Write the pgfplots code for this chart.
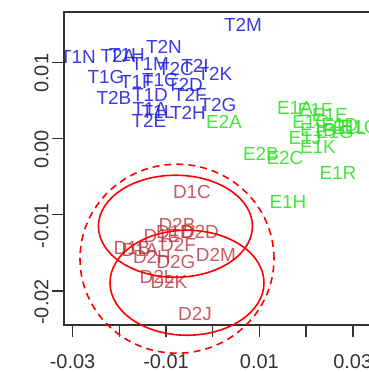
\documentclass[border=0pt]{standalone}
\usepackage{pgfplots}
\usepackage{pgfplotstable}
\pgfplotsset{compat=1.18}
\usepackage{fontspec}
\setmainfont{Liberation Sans}
\definecolor{tblue}{RGB}{25,25,225}
\definecolor{egreen}{RGB}{40,225,30}
\definecolor{dred}{RGB}{185,50,60}
\definecolor{axisgray}{RGB}{50,50,50}

\pgfplotstableread{
x y label
0.00649 0.01487 T2M
-0.02884 0.01067 T1N
-0.02028 0.01080 T2A
-0.01835 0.01093 T1H
-0.01043 0.01198 T2N
-0.01343 0.00975 T1M
-0.00786 0.00910 T2C
-0.00379 0.00949 T2I
0.00049 0.00844 T2K
-0.02285 0.00804 T1G
-0.01621 0.00739 T1F
-0.01128 0.00765 T1C
-0.00593 0.00699 T2D
-0.02113 0.00529 T2B
-0.01343 0.00568 T1D
-0.00486 0.00568 T2F
-0.01343 0.00385 T1A
-0.00529 0.00332 T2H
0.00113 0.00437 T2G
-0.01171 0.00345 T1L
-0.01364 0.00227 T2E
}\Tdata

\pgfplotstableread{
x y label
0.00242 0.00214 E2A
0.01612 -0.00836 E1H
0.02683 -0.00455 E1R
0.01034 -0.00206 E2B
0.01548 -0.00259 E2C
0.02255 -0.00114 E1K
0.01762 0.00398 E1A
0.02191 0.00371 E1F
0.02512 0.00306 E1E
0.02726 0.00175 E1D
0.02255 0.00109 E1B
0.02612 0.00083 E1G
0.02934 0.00135 E1L
0.03148 0.00148 E1O
0.01976 0.00004 E1J
0.02100 0.00220 E1C
}\Edata

\pgfplotstableread{
x y label
-0.00443 -0.00705 D1C
-0.00379 -0.02306 D2J
0.00071 -0.01531 D2M
-0.00786 -0.01623 D2G
-0.00936 -0.01885 D2K
-0.01193 -0.01820 D2L
-0.01728 -0.01440 D1B
-0.01557 -0.01466 D1A
-0.01300 -0.01558 D2H
-0.00764 -0.01138 D2B
-0.00272 -0.01230 D2D
-0.01086 -0.01282 D1E
-0.00743 -0.01400 D2F
-0.00807 -0.01230 D1D
}\Ddata

\begin{document}
\begin{tikzpicture}
\begin{axis}[
  scale only axis,
  width=316.8bp, height=313bp,
  xmin=-0.03184, xmax=0.036,
  ymin=-0.02446, ymax=0.0166,
  xtick={-0.03,-0.02,-0.01,0,0.01,0.02,0.03},
  xticklabels={-0.03,,-0.01,,0.01,,0.03},
  ytick={-0.02,-0.01,0,0.01},
  yticklabels={-0.02,-0.01,0.00,0.01},
  xtick pos=bottom, ytick pos=left,
  tick align=outside,
  major tick length=12bp,
  axis line style={line width=1.5bp, axisgray},
  every tick/.style={line width=1.5bp, axisgray},
  ticklabel style={font=\fontsize{20}{24}\selectfont, text=axisgray},
  yticklabel style={rotate=90, anchor=south, xshift=-11bp},
  xticklabel style={anchor=north, yshift=-14bp},
  clip marker paths=true,
  scaled ticks=false,
]
\addplot[only marks, mark=*, mark size=0pt, mark options={draw=none,fill=none},
  nodes near coords, point meta=explicit symbolic,
  nodes near coords style={anchor=center, text=tblue, text opacity=0.85, inner sep=0pt,
    font=\fontsize{19}{22}\selectfont}]
  table[meta=label] {\Tdata};
\addplot[only marks, mark=*, mark size=0pt, mark options={draw=none,fill=none},
  nodes near coords, point meta=explicit symbolic,
  nodes near coords style={anchor=center, text=egreen, text opacity=0.85, inner sep=0pt,
    font=\fontsize{19}{22}\selectfont}]
  table[meta=label] {\Edata};
\addplot[only marks, mark=*, mark size=0pt, mark options={draw=none,fill=none},
  nodes near coords, point meta=explicit symbolic,
  nodes near coords style={anchor=center, text=dred, text opacity=0.8, inner sep=0pt,
    font=\fontsize{19}{22}\selectfont}]
  table[meta=label] {\Ddata};
\coordinate (c1) at (axis cs:-0.00797,-0.01151);
\coordinate (c2) at (axis cs:-0.0055,-0.01892);
\coordinate (c3) at (axis cs:-0.00764,-0.01577);
\coordinate (bbl) at (axis cs:-0.04554,-0.03063);
\coordinate (btr) at (axis cs:0.03347,0.01817);
\end{axis}
% ellipse radii: 0.01649 x-units = 77bp, 0.00669 y-units = 51bp, etc.
\draw[red, line width=1.6bp] (c1) ellipse [x radius=77bp, y radius=51bp];
\draw[red, line width=1.6bp] (c2) ellipse [x radius=77bp, y radius=52.5bp];
\draw[red, line width=1.6bp, dash pattern=on 7bp off 5bp] (c3) ellipse [x radius=97bp, y radius=94.5bp];
\pgfresetboundingbox
\path (bbl) rectangle (btr);
\end{tikzpicture}
\end{document}
